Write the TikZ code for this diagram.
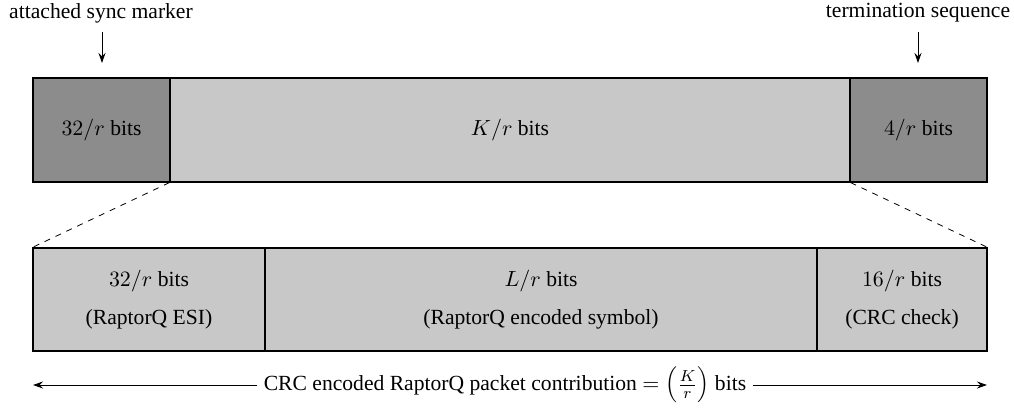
\documentclass[tikz,border=0pt]{standalone}
\usepackage{fontspec}
\setmainfont{Liberation Serif}
\usetikzlibrary{arrows.meta}
\definecolor{darkfield}{RGB}{140,140,140}
\definecolor{lightfield}{RGB}{200,200,200}
\tikzset{
  every node/.style={font=\fontsize{10.8}{13}\selectfont},
  field/.style={draw=black, line width=0.6pt, inner sep=0pt, anchor=center, align=center},
  darkbox/.style={field, fill=darkfield},
  lightbox/.style={field, fill=lightfield},
  zoomline/.style={dashed, line width=0.4pt},
  pointer/.style={-{Stealth[length=5pt,width=3.5pt]}, line width=0.5pt},
}
\begin{document}
\begin{tikzpicture}[x=0.5pt, y=-0.5pt]
\useasboundingbox (0,0) rectangle (1014,409);

% upper frame: sync marker, payload, termination
\node[darkbox, minimum width=68.5pt, minimum height=52pt] (asm) at (101.5,130) {$32/r$ bits};
\node[lightbox, minimum width=340pt, minimum height=52pt] (payload) at (510,130) {$K/r$ bits};
\node[darkbox, minimum width=68.5pt, minimum height=52pt] (term) at (918.5,130) {$4/r$ bits};

% lower frame: expanded payload
\node[lightbox, minimum width=116pt, minimum height=51.5pt] (esi) at (149,299.5) {$32/r$ bits\\[6pt](RaptorQ ESI)};
\node[lightbox, minimum width=276pt, minimum height=51.5pt] (sym) at (541,299.5) {$L/r$ bits\\[6pt](RaptorQ encoded symbol)};
\node[lightbox, minimum width=85pt, minimum height=51.5pt] (crc) at (902,299.5) {$16/r$ bits\\[6pt](CRC check)};

% zoom guides
\draw[zoomline] (payload.south west) -- (esi.north west);
\draw[zoomline] (payload.south east) -- (crc.north east);

% labels above the frame
\node (asmlabel) at (101,13) {attached sync marker};
\node (termlabel) at (918,13) {termination sequence};
\coordinate (asmtop) at (102,32);
\coordinate (asmtip) at (102,63);
\coordinate (termtop) at (918,32);
\coordinate (termtip) at (918,63);
\draw[pointer] (asmtop) -- (asmtip);
\draw[pointer] (termtop) -- (termtip);

% overall length
\node[inner sep=3pt] (total) at (505,385) {CRC encoded RaptorQ packet contribution $=\Big(\frac{K}{r}\Big)$ bits};
\coordinate (leftend) at (33,385);
\coordinate (rightend) at (987,385);
\draw[pointer] (total.west) -- (leftend);
\draw[pointer] (total.east) -- (rightend);
\end{tikzpicture}
\end{document}
